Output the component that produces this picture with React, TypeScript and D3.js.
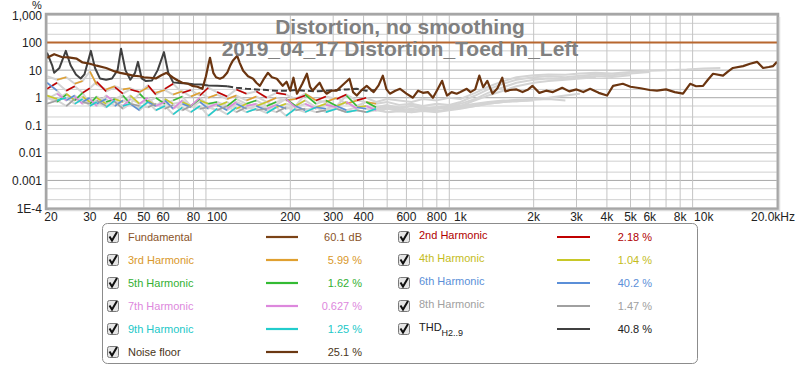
import React from "react";
import * as d3 from "d3";

// REW style distortion plot, % vs frequency (log/log)

const yTicks = [1000, 100, 10, 1, 0.1, 0.01, 0.001, 0.0001];
const yTickLabels = ["1,000", "100", "10", "1", "0.1", "0.01", "0.001", "1E-4"];
const xTicks = [20, 30, 40, 50, 60, 80, 100, 200, 300, 400, 600, 800, 1000, 2000, 3000, 4000, 5000, 6000, 8000, 10000, 20000];
const xTickLabels = ["20", "30", "40", "50", "60", "80", "100", "200", "300", "400", "600", "800", "1k", "2k", "3k", "4k", "5k", "6k", "8k", "10k", "20.0kHz"];

const titleLines = ["Distortion, no smoothing", "2019_04_17 Distortion_Toed In_Left"];

const fundFreq = [20, 20000];
const fundVal = [100, 100];

const noiseFreq = [
  20, 21.4, 23, 24.5, 26.5, 28, 30, 32, 35, 38,
  40, 43, 45, 48, 50, 53, 56, 59, 62, 66,
  69, 72, 76, 79, 83, 87, 90, 92, 93.5, 96.5,
  99, 102.7, 106, 110, 113, 116, 121, 124, 128, 134,
  140.6, 145, 150, 155, 161.7, 168, 176, 186, 193, 199.5,
  206, 213, 224, 234, 241, 247, 256, 264, 273, 282,
  296, 310, 330, 350, 362, 375, 393, 412, 440, 461,
  480, 497, 513, 540, 565, 600, 638, 670, 701, 735,
  771, 805, 841, 862, 881, 920, 965, 1000, 1062, 1100,
  1150, 1196, 1240, 1290, 1354, 1420, 1486, 1530, 1600, 1700,
  1800, 1900, 1976, 2110, 2250, 2400, 2620, 2800, 3000, 3200,
  3412, 3700, 4008, 4240, 4650, 5000, 5500, 6000, 6426, 7000,
  7600, 8220, 8790, 9300, 9934, 10400, 10920, 12000, 12600, 13180,
  14510, 15500, 16560, 17530, 18500, 19280, 20000,
];
const noiseVal = [
  28, 38, 30, 29, 26, 19, 17, 14.5, 12, 9,
  8, 7, 6.3, 6, 5.5, 5.3, 5, 6.5, 8, 5.3,
  4.2, 3.5, 3.2, 2.7, 2.5, 2.1, 6, 15, 28, 8,
  5.5, 4.9, 5.5, 8, 14, 22, 33, 18, 9.5, 6,
  4.9, 3.5, 2.7, 4.5, 8, 5.5, 4.9, 2.7, 3.8, 1.8,
  5.3, 1.4, 3.2, 7.4, 2.5, 1.8, 2.6, 3.5, 1.9, 1.4,
  1.8, 1.8, 3.0, 4.9, 1.6, 1.2, 1.9, 2.7, 1.6, 2.8,
  6.3, 2.0, 1.4, 1.8, 2.1, 1.4, 1.0, 1.8, 1.5, 1.6,
  1.0, 2.0, 4.1, 2.0, 1.2, 1.6, 1.4, 1.6, 2.1, 1.6,
  2.0, 6.3, 2.4, 4.1, 1.4, 2.2, 5.3, 1.7, 1.9, 2.0,
  1.6, 2.0, 2.7, 1.5, 1.8, 1.6, 2.3, 1.7, 2.0, 1.6,
  2.1, 1.5, 1.2, 2.7, 3.2, 2.5, 2.2, 1.9, 1.8, 2.0,
  1.6, 1.4, 3.2, 2.6, 2.7, 4.5, 7.4, 6.3, 9, 12,
  14, 17, 20, 12, 13, 14, 20,
];

const thdFreq = [
  20, 21, 21.4, 22.5, 23.9, 25, 26.3, 27.5, 28.5, 30.3,
  31.5, 33, 35, 37, 39, 40.3, 42, 44, 46, 47.3,
  49, 51, 54, 57, 60.5, 63, 66, 70, 75, 80,
  86, 92, 100, 110, 120, 132, 145, 160, 175, 192,
  210, 230, 255, 280, 310, 340, 375, 410, 450,
];
const thdVal = [
  43, 15, 8, 12, 50, 15, 7, 5, 7, 50,
  12, 5, 4.5, 5, 10, 60, 10, 4.5, 8, 20,
  5, 4, 4.2, 10, 45, 8, 3.6, 3.4, 3.3, 3.1,
  3.0, 2.8, 2.7, 2.6, 2.3, 2.1, 2.0, 1.9, 1.8, 1.8,
  1.9, 1.8, 1.7, 1.8, 1.9, 2.0, 2.1, 1.8, 1.9,
];

// shared frequency grid for the harmonics
const hFreq = [
  20, 22, 24, 26, 28, 30, 32, 35, 38, 41, 44, 48, 52, 56, 61, 66, 72, 78, 85, 92,
  100, 110, 120, 132, 145, 160, 175, 192, 210, 230, 255, 280, 310, 340, 375, 410, 450,
  500, 560, 630, 700, 800, 900, 1000,
  1150, 1300, 1500, 1700, 2000,
  2300, 2700, 3100, 3600, 4200, 5000, 6000, 7000, 8500, 10000, 11700,
];
const h2Val = [
  2.1, 3.5, 1.8, 2.6, 1.5, 2.2, 3.8, 1.7, 2.4, 1.4, 2.0, 1.6, 2.8, 1.3, 2.1, 3.2, 1.5, 1.9, 1.2, 2.3,
  1.6, 1.1, 2.0, 1.4, 1.7, 1.0, 1.5, 1.3, 0.9, 1.2, 0.8, 1.1, 0.9, 1.3, 0.8, 1.0, 0.7,
  0.9, 0.8, 0.7, 0.9, 0.8, 1.0, 0.9,
  1.5, 2.5, 4.0, 5.5, 6.5,
  7.0, 6.8, 7.5, 8.0, 7.6, 8.5, 9.5, 10.0, 10.5, 11.5, 12.0,
];
const h3Val = [
  6.0, 4.5, 5.5, 3.2, 4.0, 9.0, 3.0, 2.0, 2.6, 2.0, 2.2, 1.6, 2.4, 1.5, 1.9, 1.3, 1.7, 1.1, 1.5, 1.0,
  1.3, 0.9, 1.2, 0.8, 1.1, 0.7, 1.0, 0.8, 0.9, 1.4, 0.8, 0.7, 1.0, 0.6, 0.8, 0.7, 0.6,
  0.7, 0.55, 0.6, 0.5, 0.6, 0.55, 0.7,
  1.2, 2.0, 3.2, 4.5, 5.5,
  6.0, 5.5, 6.2, 7.0, 6.5, 7.5, 8.5,
];
const h4Val = [
  1.2, 0.9, 1.4, 0.8, 1.1, 0.7, 1.0, 0.6, 0.9, 0.7, 1.2, 0.6, 0.8, 0.5, 0.9, 0.6, 0.7, 0.5, 0.8, 0.6,
  0.5, 0.7, 0.4, 0.6, 0.5, 0.7, 0.45, 0.6, 0.5, 0.8, 0.45, 0.6, 0.5, 0.7, 0.45, 0.5, 0.4,
  0.5, 0.45, 0.5, 0.4, 0.45, 0.5, 0.6,
  0.9, 1.5, 2.4, 3.5, 4.5,
  5.0, 4.8, 5.5, 6.0, 5.6, 6.5,
];
const h5Val = [
  1.0, 0.7, 1.3, 0.8, 1.5, 0.6, 1.1, 0.7, 0.9, 1.2, 0.6, 1.4, 0.7, 1.0, 0.6, 0.8, 1.1, 0.5, 0.9, 0.6,
  0.7, 0.5, 0.9, 0.6, 0.8, 0.5, 0.7, 0.9, 0.5, 1.3, 0.6, 0.8, 0.5, 1.2, 0.5, 0.7, 0.45,
  0.55, 0.4, 0.5, 0.45, 0.4, 0.5, 0.5,
  0.8, 1.2, 1.8, 2.6, 3.5,
  4.0, 4.5, 5.0, 5.5,
];
const h6Val = [
  3.5, 1.8, 0.8, 1.2, 0.7, 1.0, 0.6, 0.9, 0.5, 0.8, 0.6, 0.35, 0.7, 0.5, 0.8, 0.4, 0.6, 0.45, 0.7, 0.4,
  0.55, 0.35, 0.6, 0.4, 0.5, 0.35, 0.55, 0.4, 0.5, 0.35, 0.45, 0.4, 0.5, 0.35, 0.45, 0.4, 0.35,
  0.4, 0.35, 0.4, 0.35, 0.4, 0.45, 0.45,
  0.55, 0.65, 0.75, 0.85, 0.9,
  1.0, 1.2, 1.4,
];
const h7Val = [
  0.9, 1.4, 0.8, 1.1, 0.6, 0.9, 0.5, 1.2, 0.7, 0.5, 0.9, 0.6, 1.0, 0.5, 0.7, 0.4, 0.8, 0.5, 1.0, 0.45,
  0.6, 0.4, 0.7, 0.5, 0.6, 0.4, 0.55, 0.9, 0.45, 0.6, 0.4, 0.55, 0.45, 0.7, 0.4, 0.5, 0.35,
  0.45, 0.4, 0.35, 0.4, 0.45, 0.4, 0.5,
  0.6, 0.7, 0.8, 0.75, 0.85,
  0.9, 0.8,
];
const h8Val = [
  0.6, 0.8, 0.5, 0.9, 0.7, 0.6, 0.8, 0.5, 0.7, 0.4, 0.6, 0.5, 0.45, 0.6, 0.4, 0.55, 0.35, 0.5, 0.4, 0.45,
  0.35, 0.5, 0.3, 0.45, 0.35, 0.4, 0.3, 0.45, 0.35, 0.4, 0.3, 0.35, 0.4, 0.3, 0.35, 0.3, 0.35,
  0.3, 0.32, 0.3, 0.35, 0.33, 0.38, 0.42,
  0.5, 0.6, 0.7, 0.8, 0.9,
  1.0,
];
const h9Val = [
  1.1, 0.8, 1.0, 0.6, 0.9, 0.5, 0.7, 0.45, 0.8, 0.5, 0.6, 0.4, 0.7, 0.35, 0.5, 0.25, 0.45, 0.3, 0.5, 0.22,
  0.4, 0.25, 0.45, 0.3, 0.4, 0.28, 0.45, 0.22, 0.4, 0.3, 0.45, 0.3, 0.4, 0.3, 0.35, 0.3, 0.4,
  0.3, 0.35, 0.3, 0.33, 0.3, 0.35, 0.4,
  0.5, 0.6, 0.7, 0.75, 0.8,
];

const harmonics = [
  { vals: h2Val, color: "#c00000" },
  { vals: h3Val, color: "#e0a030" },
  { vals: h4Val, color: "#c8c828" },
  { vals: h5Val, color: "#33bb33" },
  { vals: h6Val, color: "#5b8fd8" },
  { vals: h7Val, color: "#dd88dd" },
  { vals: h8Val, color: "#a0a0a0" },
  { vals: h9Val, color: "#22cccc" },
];

// legend rows
const legendLeft = [
  { name: "Fundamental", value: "60.1 dB", text: "#8a5328", line: "#7b4316" },
  { name: "3rd Harmonic", value: "5.99 %", text: "#d9982a", line: "#e0a030" },
  { name: "5th Harmonic", value: "1.62 %", text: "#33b033", line: "#33bb33" },
  { name: "7th Harmonic", value: "0.627 %", text: "#dd88dd", line: "#dd88dd" },
  { name: "9th Harmonic", value: "1.25 %", text: "#22c8c8", line: "#22cccc" },
  { name: "Noise floor", value: "25.1 %", text: "#4a3520", line: "#6b3812" },
];
const legendRight = [
  { name: "2nd Harmonic", value: "2.18 %", text: "#b00000", line: "#c00000" },
  { name: "4th Harmonic", value: "1.04 %", text: "#c4bc1c", line: "#c8c828" },
  { name: "6th Harmonic", value: "40.2 %", text: "#5b8fd8", line: "#5b8fd8" },
  { name: "8th Harmonic", value: "1.47 %", text: "#a0a0a0", line: "#a0a0a0" },
  { name: "THD", sub: "H2..9", value: "40.8 %", text: "#202020", line: "#404040" },
];

const W = 800;
const H = 366;
const L = 47, R = 777, T = 15, B = 208;
const FONT = "'Liberation Sans', Arial, sans-serif";

function Check({ x, y }: { x: number; y: number }) {
  return (
    <g>
      <rect x={x + 0.5} y={y + 0.5} width={11} height={11} rx={2} fill="#e6e6e6" stroke="#7a7a7a" />
      <path d={`M${x + 2.5},${y + 5.5} L${x + 5},${y + 9.5} L${x + 10},${y + 1}`} fill="none" stroke="#111" strokeWidth={2} />
    </g>
  );
}

export default function App() {
  const x = d3.scaleLog().domain([20, 20000]).range([L, R]);
  const y = d3.scaleLog().domain([0.0001, 1000]).range([B, T]);

  const line = d3
    .line<[number, number]>()
    .x((d) => x(d[0]))
    .y((d) => y(d[1]));

  const pts = (f: number[], v: number[]) => v.map((val, i) => [f[i], val] as [number, number]);

  // grid
  const xMinor: number[] = [];
  [10, 100, 1000, 10000].forEach((d) => {
    for (let m = 2; m <= 9; m++) {
      const f = m * d;
      if (f >= 20 && f <= 20000) xMinor.push(f);
    }
  });
  const xMajor = [100, 1000, 10000];
  const yMinor: number[] = [];
  const yMajor: number[] = [];
  for (let e = -4; e <= 3; e++) {
    yMajor.push(Math.pow(10, e));
    if (e < 3) {
      yMinor.push(2 * Math.pow(10, e));
      yMinor.push(5 * Math.pow(10, e));
    }
  }

  const colorCut = 450;

  return (
    <svg width={W} height={H} style={{ position: "absolute", left: 0, top: 0, background: "#fff" }} fontFamily={FONT}>
      <defs>
        <clipPath id="plot">
          <rect x={L} y={T} width={R - L} height={B - T} />
        </clipPath>
      </defs>
      <rect x={L} y={T} width={R - L} height={B - T} fill="#fff" />
      {/* grid */}
      {yMinor.map((v) => (
        <line key={"ym" + v} x1={L} x2={R} y1={y(v)} y2={y(v)} stroke="#cfcfcf" />
      ))}
      {yMajor.map((v) => (
        <line key={"yM" + v} x1={L} x2={R} y1={y(v)} y2={y(v)} stroke="#a8a8a8" />
      ))}
      {xMinor.map((f) => (
        <line key={"xm" + f} x1={x(f)} x2={x(f)} y1={T} y2={B} stroke={xMajor.includes(f) ? "#8a8a8a" : "#c4c4c4"} />
      ))}

      <g clipPath="url(#plot)" fill="none" strokeLinejoin="round">
        {/* harmonics, grey under colour */}
        {harmonics.map((h, k) => (
          <path key={"hg" + k} d={line(pts(hFreq, h.vals)) || ""} stroke="#d4d4d4" strokeWidth={2} />
        ))}
        {harmonics.map((h, k) =>
          h.vals.slice(0, -1).map((v, i) =>
            hFreq[i + 1] <= colorCut && (i + k) % 2 === 0 ? (
              <path
                key={"hc" + k + "-" + i}
                d={line([[hFreq[i], v], [hFreq[i + 1], h.vals[i + 1]]]) || ""}
                stroke={h.color}
                strokeWidth={1.6}
              />
            ) : null
          )
        )}
        {/* THD */}
        <path
          d={line(pts(thdFreq, thdVal).filter((d) => d[0] <= 110)) || ""}
          stroke="#404040"
          strokeWidth={2}
        />
        <path
          d={line(pts(thdFreq, thdVal).filter((d) => d[0] >= 110)) || ""}
          stroke="#404040"
          strokeWidth={2}
          strokeDasharray="6 3"
        />
        {/* noise floor */}
        <path d={line(pts(noiseFreq, noiseVal)) || ""} stroke="#6b3510" strokeWidth={2.2} />
        {/* fundamental */}
        <path d={line(pts(fundFreq, fundVal)) || ""} stroke="#b8672f" strokeWidth={2} />
      </g>

      {/* frame */}
      <rect x={L - 1} y={T - 1} width={R - L + 2} height={B - T + 2} fill="none" stroke="#a6a6a6" strokeWidth={2.5} />
      <path d={`M${R + 2.5},${T + 2} V${B + 2.5} H${L + 2}`} fill="none" stroke="#dcdcdc" strokeWidth={1.5} />

      {/* title */}
      {titleLines.map((t, i) => (
        <text
          key={t}
          x={400}
          y={34 + i * 22}
          textAnchor="middle"
          fontSize={21}
          fontWeight="bold"
          fill="#808080"
        >
          {t}
        </text>
      ))}

      {/* y axis */}
      <text x={37} y={8.5} textAnchor="middle" fontSize={11} fill="#222">%</text>
      {yTicks.map((v, i) => (
        <text key={"yt" + v} x={42} y={y(v) + 4.5} textAnchor="end" fontSize={12} fill="#222">
          {yTickLabels[i]}
        </text>
      ))}
      {/* x axis */}
      {xTicks.map((f, i) => (
        <text
          key={"xt" + f}
          x={f === 20000 ? 795 : f === 20 ? x(f) + 4 : x(f)}
          y={221}
          textAnchor={f === 20000 ? "end" : "middle"}
          fontSize={12}
          fill="#222"
        >
          {xTickLabels[i]}
        </text>
      ))}

      {/* legend */}
      <rect x={102.5} y={223.5} width={595} height={140} rx={5} fill="#fff" stroke="#8c8c8c" />
      {legendLeft.map((e, i) => {
        const cy = 237 + i * 23;
        return (
          <g key={"ll" + i} fontSize={11}>
            <Check x={107} y={cy - 6} />
            <text x={128} y={cy + 4} fill={e.text}>{e.name}</text>
            <line x1={266} x2={298} y1={cy} y2={cy} stroke={e.line} strokeWidth={2.2} />
            <text x={362} y={cy + 4} textAnchor="end" fill={e.text}>{e.value}</text>
          </g>
        );
      })}
      {legendRight.map((e, i) => {
        const cy = 237 + i * 23;
        return (
          <g key={"lr" + i} fontSize={11}>
            <Check x={398} y={cy - 6} />
            <text x={419} y={cy + 2} fill={e.text}>
              {e.name}
              {e.sub ? (
                <tspan fontSize={9} dy={5}>{e.sub}</tspan>
              ) : null}
            </text>
            <line x1={557} x2={590} y1={cy} y2={cy} stroke={e.line} strokeWidth={2.2} />
            <text x={652} y={cy + 4} textAnchor="end" fill={e.text}>{e.value}</text>
          </g>
        );
      })}
    </svg>
  );
}
